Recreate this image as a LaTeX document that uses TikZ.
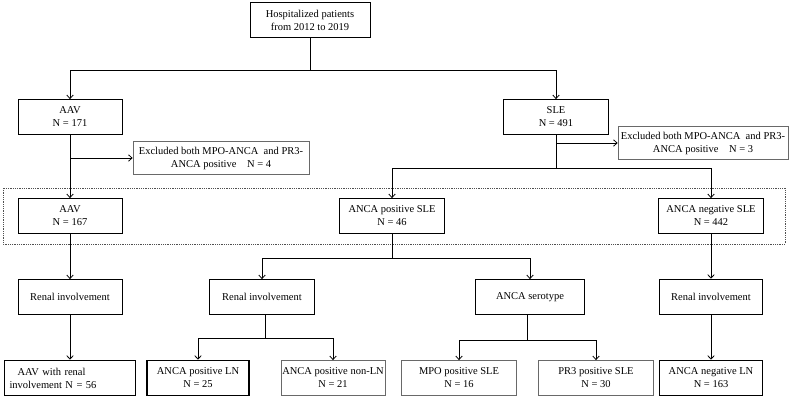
\documentclass[tikz,border=0pt]{standalone}
\usepackage{fontspec}
\setmainfont{Liberation Serif}
\usetikzlibrary{arrows.meta,positioning,calc}
\definecolor{BoxGray}{RGB}{105,105,105}
\definecolor{FrameGray}{RGB}{80,80,80}

\begin{document}
\begin{tikzpicture}[x=1pt,y=-1pt,
  font=\fontsize{10.5}{13}\selectfont,
  box/.style={draw, line width=0.8pt, align=center, minimum height=35pt, inner sep=2pt},
  greybox/.style={box, draw=BoxGray},
  boldbox/.style={box, line width=1.6pt},
  link/.style={line width=0.8pt},
  >={Straight Barb[length=3.5pt,width=6.5pt]}]
\useasboundingbox (0,0) rectangle (790,400);

% Cohort
\node[box, minimum width=120pt] (hosp) at (310,20) {Hospitalized patients\\from 2012 to 2019};
\node[box, minimum width=104pt] (aav) at (70,117) {AAV\\N = 171};
\node[box, minimum width=105pt] (sle) at (556,117) {SLE\\N = 491};

% Exclusions
\node[greybox, minimum width=176pt, minimum height=33pt] (exaav) at (221,158) {Excluded both MPO-ANCA\ \ and PR3-\\ANCA positive\ \ \ \ N = 4};
\node[greybox, minimum width=170pt, minimum height=33pt, inner xsep=0pt] (exsle) at (703,143) {Excluded both MPO-ANCA\ \ and PR3-\\ANCA positive\ \ \ \ N = 3};

% Study groups
\draw[FrameGray, densely dotted, line width=0.8pt] (3,188) rectangle (785,244);
\node[box, minimum width=104pt] (aavb) at (70,216) {AAV\\N = 167};
\node[box, minimum width=105pt] (pos) at (392,216) {ANCA positive SLE\\N = 46};
\node[box, minimum width=105pt] (neg) at (711,216) {ANCA negative SLE\\N = 442};

% Second level
\node[box, minimum width=104pt] (renala) at (70,297) {Renal involvement};
\node[box, minimum width=105pt] (renalb) at (262,297) {Renal involvement};
\node[box, minimum width=109pt] (sero) at (530,297) {ANCA serotype};
\node[boldbox, minimum width=103pt] (renalc) at (711,297) {Renal involvement};

% Outcomes
\node[boldbox, minimum width=131pt, text width=121pt, align=left, inner xsep=5pt] (aavren) at (70,378) {\hspace*{8pt}AAV with renal\\involvement N = 56};
\node[boldbox, minimum width=102pt] (posln) at (198,378) {ANCA positive LN\\N = 25};
\node[greybox, minimum width=104pt, inner xsep=0pt] (posnon) at (333,378) {ANCA positive non-LN\\N = 21};
\node[greybox, minimum width=115pt] (mpo) at (459,378) {MPO positive SLE\\N = 16};
\node[greybox, minimum width=115pt] (pr3) at (596,378) {PR3 positive SLE\\N = 30};
\node[boldbox, minimum width=103pt] (negln) at (711,378) {ANCA negative LN\\N = 163};

% Junctions
\coordinate (split) at (310,70);
\coordinate (slesplit) at (556,168);
\coordinate (possplit) at (392,258);
\coordinate (rensplit) at (265,338);
\coordinate (serosplit) at (527,340);

% Connectors
\draw[link] (hosp.south) -- (split);
\draw[link,->] (split) -| (aav.north);
\draw[link,->] (split) -| (sle.north);

\draw[link,->] (aav.south) -- (aavb.north);
\draw[link,->] (aav.south |- exaav.west) -- (exaav.west);
\draw[link,->] (aavb.south) -- (renala.north);
\draw[link,->] (renala.south) -- (aavren.north);

\draw[link] (sle.south) -- (slesplit);
\draw[link,->] (sle.south |- exsle.west) -- (exsle.west);
\draw[link,->] (slesplit) -| (pos.north);
\draw[link,->] (slesplit) -| (neg.north);

\draw[link] (pos.south) -- (possplit);
\draw[link,->] (possplit) -| (renalb.north);
\draw[link,->] (possplit) -| (sero.north);

\draw[link] (renalb.south -| rensplit) -- (rensplit);
\draw[link,->] (rensplit) -| (posln.north);
\draw[link,->] (rensplit) -| (posnon.north);

\draw[link] (sero.south -| serosplit) -- (serosplit);
\draw[link,->] (serosplit) -| (mpo.north);
\draw[link,->] (serosplit) -| (pr3.north);

\draw[link,->] (neg.south) -- (renalc.north);
\draw[link,->] (renalc.south) -- (negln.north);
\end{tikzpicture}
\end{document}
